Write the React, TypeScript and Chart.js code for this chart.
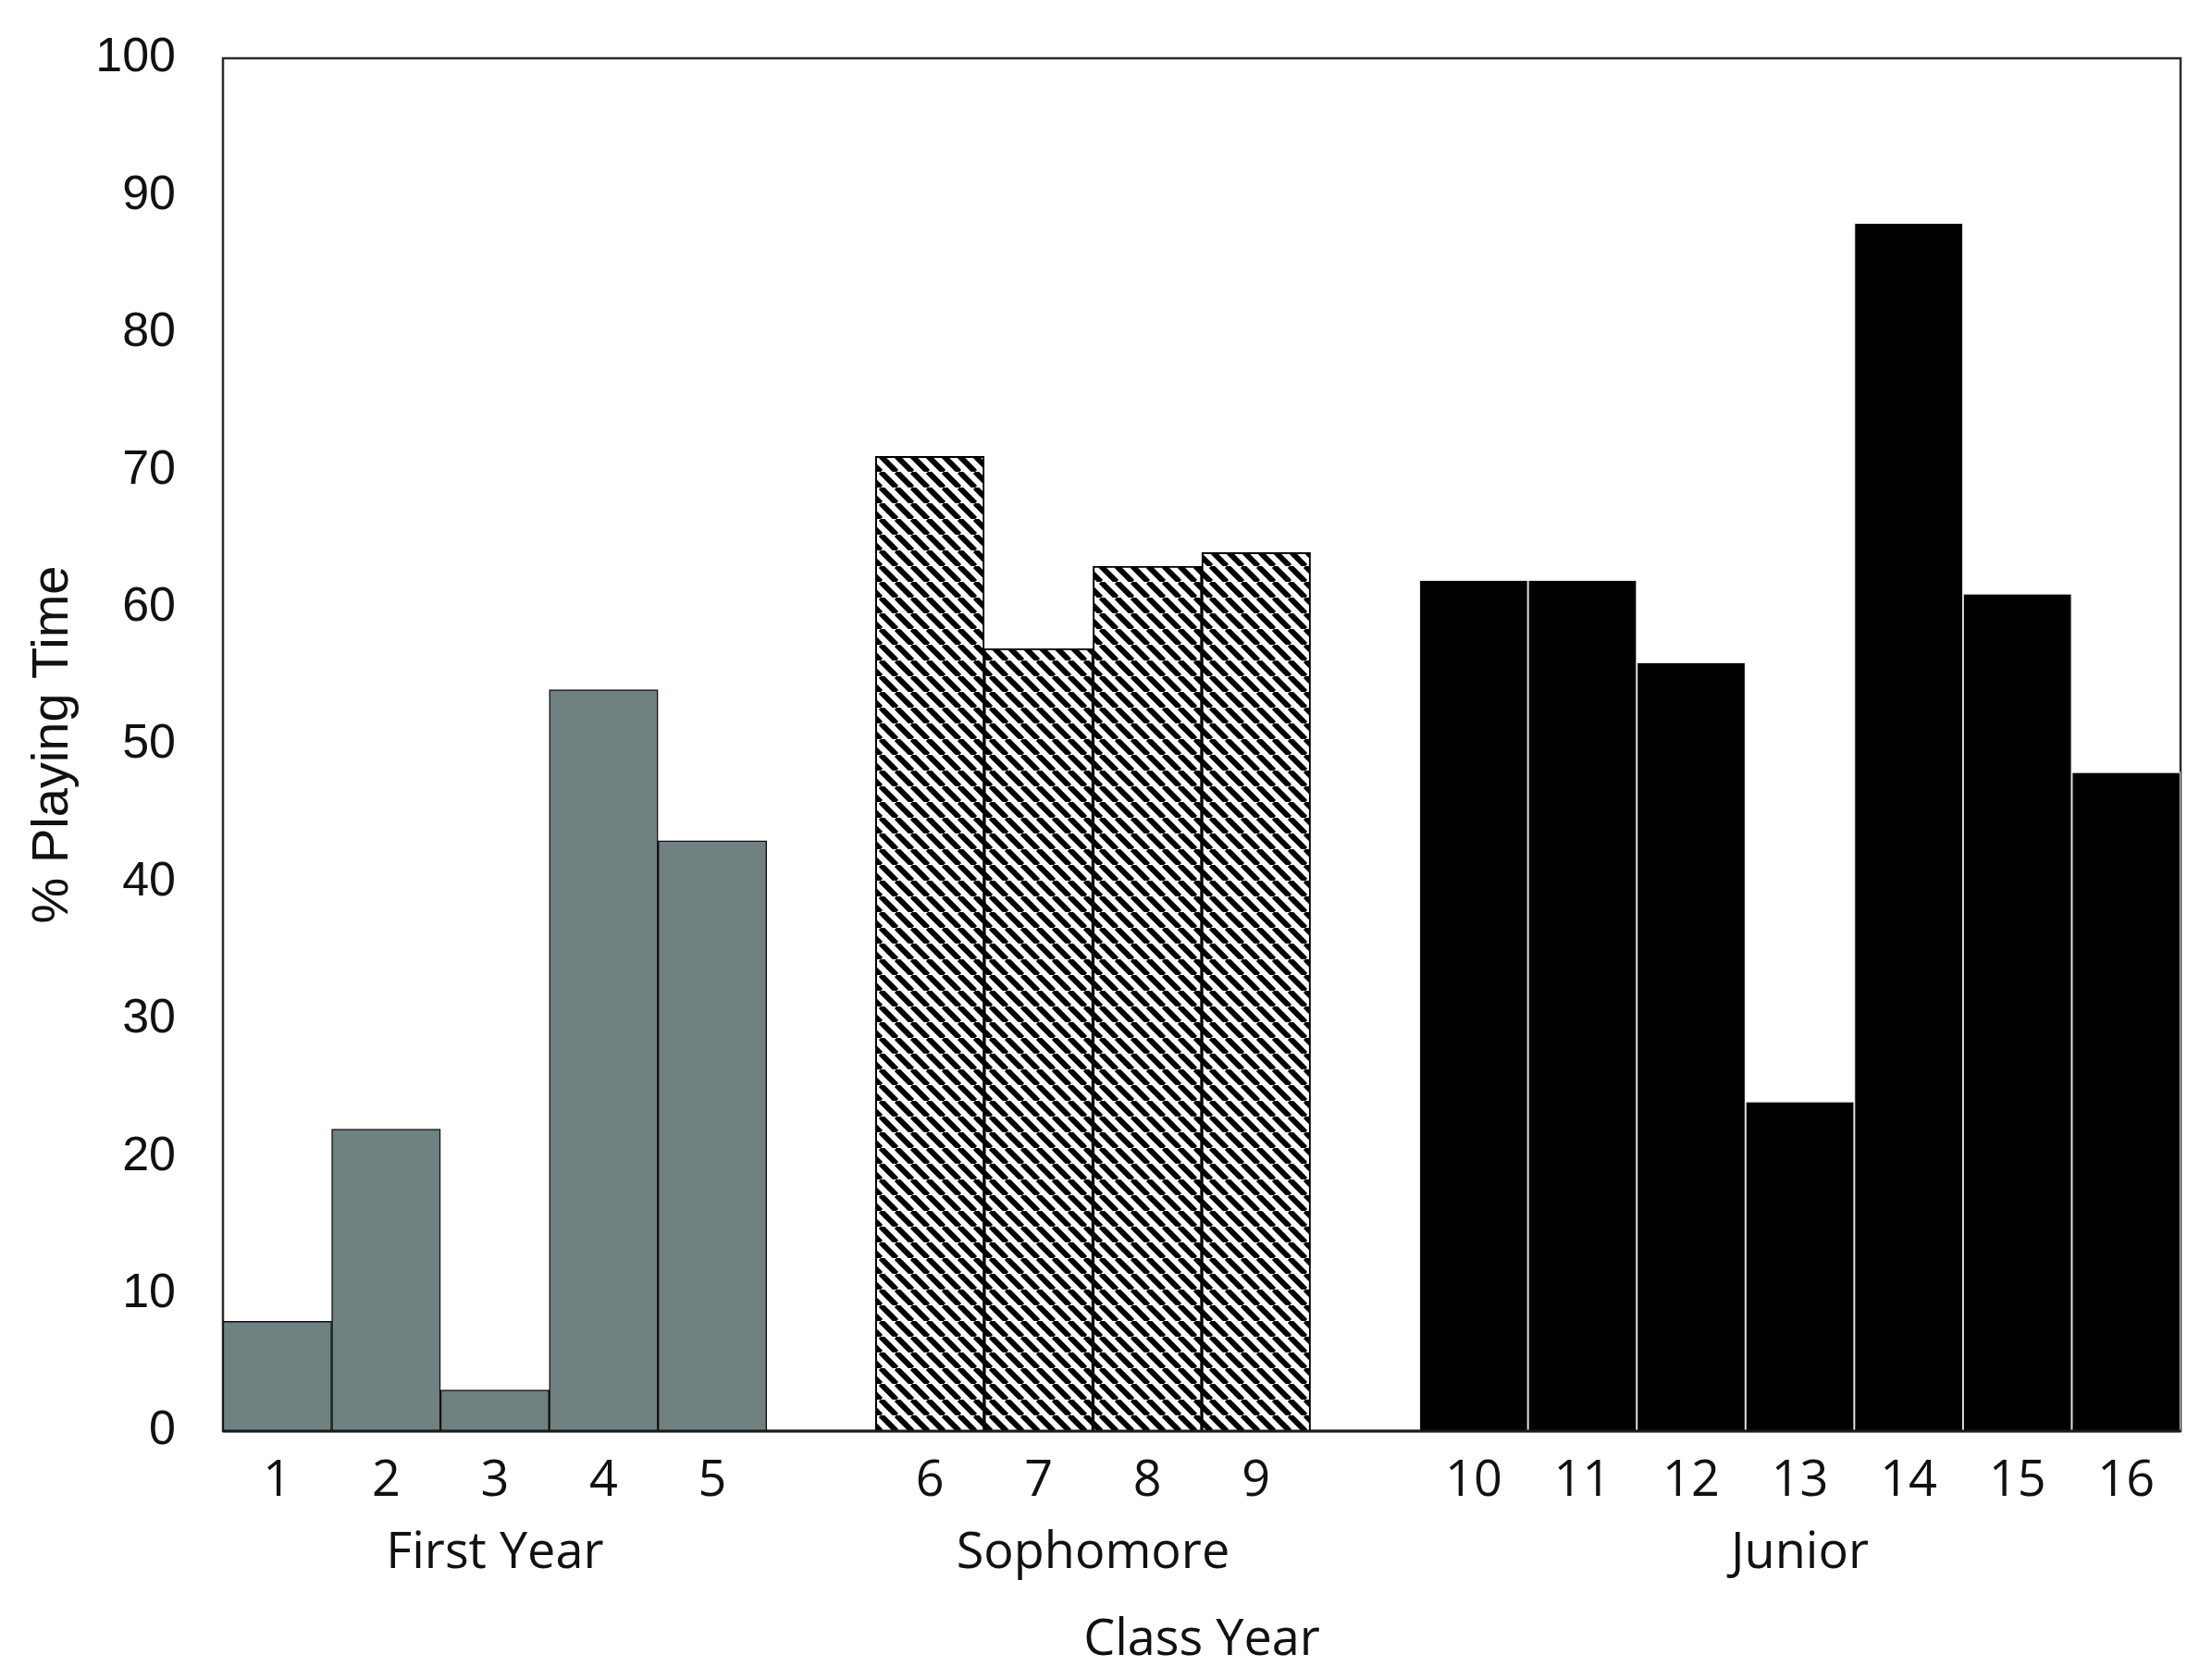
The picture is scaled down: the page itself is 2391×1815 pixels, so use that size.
import React, { useEffect, useRef } from "react";
import { Chart, registerables } from "chart.js";

Chart.register(...registerables);

const firstYearPlayers = ["1", "2", "3", "4", "5"];
const sophomorePlayers = ["6", "7", "8", "9"];
const juniorPlayers = ["10", "11", "12", "13", "14", "15", "16"];

const firstYearValues = [8, 22, 3, 54, 43];
const sophomoreValues = [71, 57, 63, 64];
const juniorValues = [62, 62, 56, 24, 88, 61, 48];

const groupLabels = ["First Year", "Sophomore", "Junior"];
const yTicks = [0, 10, 20, 30, 40, 50, 60, 70, 80, 90, 100];

const W = 2391;
const H = 1815;

function makeHatch(): CanvasPattern | string {
  const s = 17;
  const c = document.createElement("canvas");
  c.width = s;
  c.height = s;
  const g = c.getContext("2d");
  if (!g) return "#000";
  g.fillStyle = "#ffffff";
  g.fillRect(0, 0, s, s);
  g.strokeStyle = "#000000";
  g.lineWidth = 6;
  g.beginPath();
  for (const k of [-1, 0, 1]) {
    g.moveTo(k * s, 0);
    g.lineTo(k * s + s, s);
  }
  g.stroke();
  const p = g.createPattern(c, "repeat");
  return p || "#000";
}

export default function App() {
  const ref = useRef<HTMLCanvasElement | null>(null);

  useEffect(() => {
    if (!ref.current) return;
    const groups = [firstYearPlayers, sophomorePlayers, juniorPlayers];
    const groupValues = [firstYearValues, sophomoreValues, juniorValues];

    const labels: string[] = [];
    const groupRanges: [number, number][] = [];
    groups.forEach((g, gi) => {
      if (gi > 0) labels.push("");
      const start = labels.length;
      g.forEach((p) => labels.push(p));
      groupRanges.push([start, labels.length - 1]);
    });

    const padData = (gi: number) => {
      const arr: (number | null)[] = labels.map(() => null);
      const [start] = groupRanges[gi];
      groupValues[gi].forEach((v, i) => (arr[start + i] = v));
      return arr;
    };

    const hatch = makeHatch();

    const frame = {
      id: "frame",
      beforeDatasetsDraw(chart: any) {
        const { ctx, chartArea: a } = chart;
        ctx.save();
        ctx.strokeStyle = "#2b2b2b";
        ctx.lineWidth = 2.5;
        ctx.strokeRect(a.left, a.top, a.right - a.left, a.bottom - a.top);
        ctx.restore();
      },
      afterDatasetsDraw(chart: any) {
        const { ctx, chartArea: a } = chart;
        ctx.save();
        ctx.strokeStyle = "#1a1a1a";
        ctx.lineWidth = 3;
        ctx.beginPath();
        ctx.moveTo(a.left, a.bottom);
        ctx.lineTo(a.right, a.bottom);
        ctx.stroke();
        ctx.restore();
      },
      afterDraw(chart: any) {
        const { ctx } = chart;
        const x = chart.scales.x;
        ctx.save();
        ctx.fillStyle = "#111111";
        ctx.font = "54px 'Open Sans'";
        ctx.textAlign = "center";
        ctx.textBaseline = "middle";
        groupRanges.forEach(([s, e], gi) => {
          const cx = (x.getPixelForValue(s) + x.getPixelForValue(e)) / 2;
          ctx.fillText(groupLabels[gi], cx, x.top + 133);
        });
        ctx.restore();
      },
    };

    const chart = new Chart(ref.current, {
      type: "bar",
      data: {
        labels,
        datasets: [
          {
            label: "First Year",
            data: padData(0),
            backgroundColor: "#6f8281",
            borderColor: "#111111",
            borderWidth: 1.5,
            grouped: false,
          },
          {
            label: "Sophomore",
            data: padData(1),
            backgroundColor: hatch as any,
            borderColor: "#000000",
            borderWidth: 2,
            grouped: false,
          },
          {
            label: "Junior",
            data: padData(2),
            backgroundColor: "#000000",
            borderColor: "#e6e6e6",
            borderWidth: 1.3,
            grouped: false,
          },
        ],
      },
      options: {
        responsive: false,
        animation: false,
        devicePixelRatio: 1,
        layout: { padding: { top: 63, right: 34, left: 0, bottom: 0 } },
        datasets: {
          bar: { categoryPercentage: 1, barPercentage: 1 },
        },
        plugins: {
          legend: { display: false },
          tooltip: { enabled: false },
        },
        scales: {
          x: {
            grid: { display: false, drawTicks: false },
            border: { display: false },
            ticks: {
              color: "#111111",
              font: { family: "'Open Sans'", size: 54 },
              padding: 22,
              maxRotation: 0,
              autoSkip: false,
            },
            title: {
              display: true,
              text: "Class Year",
              color: "#111111",
              font: { family: "'Open Sans'", size: 54 },
              padding: { top: 0, bottom: 9 },
            },
            afterFit(scale: any) {
              scale.height = 268;
            },
          },
          y: {
            min: 0,
            max: 100,
            afterBuildTicks(scale: any) {
              scale.ticks = yTicks.map((v) => ({ value: v }));
            },
            grid: { display: false, drawTicks: false },
            border: { display: false },
            ticks: {
              color: "#111111",
              font: { family: "'Liberation Sans', Arial", size: 52 },
              padding: 51,
            },
            title: {
              display: true,
              text: "% Playing Time",
              color: "#111111",
              font: { family: "'Liberation Sans', Arial", size: 56 },
              padding: { top: 24, bottom: 0 },
            },
            afterFit(scale: any) {
              scale.width = 241;
              scale.paddingTop = 0;
              scale.paddingBottom = 0;
            },
          },
        },
      },
      plugins: [frame],
    });

    return () => chart.destroy();
  }, []);

  return (
    <div style={{ position: "absolute", left: 0, top: 0, width: W, height: H, background: "#fff" }}>
      <canvas ref={ref} width={W} height={H} style={{ width: W, height: H, display: "block" }} />
    </div>
  );
}
